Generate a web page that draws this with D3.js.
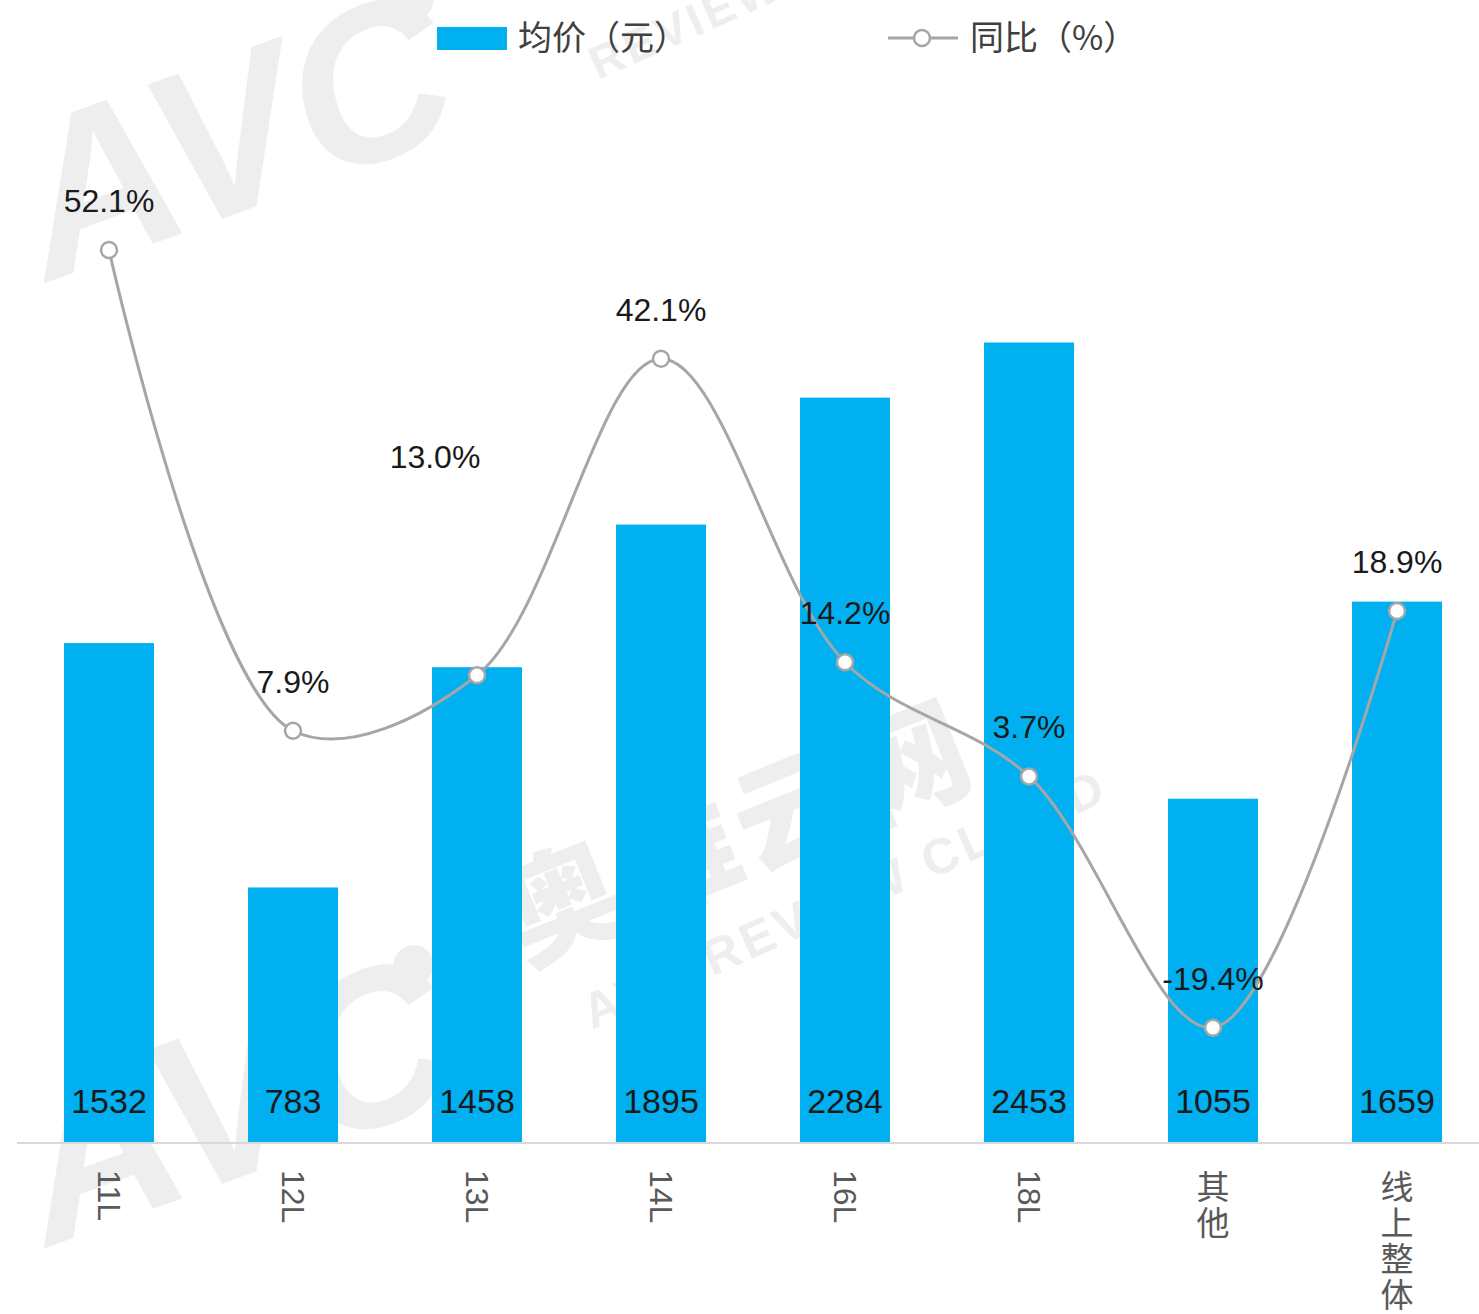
<!DOCTYPE html>
<html>
<head>
<meta charset="utf-8">
<script src="https://cdn.jsdelivr.net/npm/d3@7"></script>
<style>
  html, body { margin: 0; padding: 0; background: #fff; }
  svg { display: block; }
</style>
</head>
<body>
<svg id="chart" width="1479" height="1314"></svg>
<script>
// Average price (yuan) and year-on-year change (%) by capacity segment
const categories = ["11L", "12L", "13L", "14L", "16L", "18L", "其他", "线上整体"];
const avgPrice   = [1532, 783, 1458, 1895, 2284, 2453, 1055, 1659];
const yoyPct     = [52.1, 7.9, 13.0, 42.1, 14.2, 3.7, -19.4, 18.9];
const legendNames = ["均价（元）", "同比（%）"];

const W = 1479, H = 1314;
const svg = d3.select("#chart");

const plotTop = 164, plotBottom = 1143;
const x = d3.scaleBand().domain(categories).range([17, 1489])
  .paddingInner(0.511).paddingOuter(0.2555);
const yBar = d3.scaleLinear().domain([0, 3000]).range([plotBottom, plotTop]);
const yLine = d3.scaleLinear().domain([-30, 60]).range([plotBottom, plotTop]);

const BLUE = "#00b0f0", GREY_LINE = "#a6a6a6";
const numFont = "'Liberation Sans', Arial, sans-serif";
const cjkFont = "'Noto Sans CJK SC', 'Noto Sans', sans-serif";

// faint brand watermark behind the chart
const wm = svg.append("g").attr("fill", "#eeeeee").attr("font-family", numFont)
  .attr("font-weight", "bold");
[0, 965].forEach(dy => {
  const g = wm.append("g").attr("transform", `translate(48,${282 + dy}) rotate(-20)`);
  g.append("text").attr("font-size", 220).attr("font-style", "italic").text("AVC");
  g.append("circle").attr("cx", 440).attr("cy", -140).attr("r", 20);
});
wm.append("text").attr("transform", "translate(525,965) rotate(-22)")
  .attr("font-family", cjkFont).attr("font-weight", 900)
  .attr("font-size", 118).attr("letter-spacing", 6).text("奥维云网");
wm.append("text").attr("transform", "translate(592,1030) rotate(-24)")
  .attr("font-size", 50).attr("letter-spacing", 4).text("AVC REVIEW CLOUD");
wm.append("text").attr("transform", "translate(598,80) rotate(-24)")
  .attr("font-size", 46).attr("letter-spacing", 4).text("REVIEW");

// bars
svg.append("g").selectAll("rect").data(categories).join("rect")
  .attr("x", d => x(d))
  .attr("width", x.bandwidth())
  .attr("y", (d, i) => yBar(avgPrice[i]))
  .attr("height", (d, i) => yBar(0) - yBar(avgPrice[i]))
  .attr("fill", BLUE);

// bar value labels, inside the bar foot
svg.append("g").selectAll("text").data(categories).join("text")
  .attr("x", d => x(d) + x.bandwidth() / 2)
  .attr("y", plotBottom - 30)
  .attr("text-anchor", "middle")
  .attr("font-family", numFont).attr("font-size", 34)
  .attr("fill", "#1a1a1a")
  .text((d, i) => avgPrice[i]);

// category axis
const xAxis = d3.axisBottom(x).tickSize(0).tickFormat("");
const axisG = svg.append("g").attr("transform", `translate(0,${plotBottom})`).call(xAxis);
axisG.select(".domain").attr("stroke", "#d9d9d9").attr("stroke-width", 2)
  .attr("d", `M17,0H${W}`);

// vertical category labels (latin turned sideways, CJK upright)
const isLatin = s => /^[\x00-\x7f]+$/.test(s);
svg.append("g").attr("fill", "#595959").selectAll("text").data(categories).join("text")
  .attr("x", d => x(d) + x.bandwidth() / 2)
  .attr("y", 1170)
  .style("writing-mode", "vertical-rl")
  .attr("font-family", d => isLatin(d) ? numFont : cjkFont)
  .attr("font-size", d => isLatin(d) ? 32 : 33)
  .attr("letter-spacing", d => isLatin(d) ? 0 : 3)
  .text(d => d);

// YoY line
const pts = categories.map((c, i) => [x(c) + x.bandwidth() / 2, yLine(yoyPct[i])]);
svg.append("path")
  .attr("d", d3.line().curve(d3.curveCatmullRom.alpha(0.5))(pts))
  .attr("fill", "none").attr("stroke", GREY_LINE).attr("stroke-width", 3);
svg.append("g").selectAll("circle").data(pts).join("circle")
  .attr("cx", d => d[0]).attr("cy", d => d[1]).attr("r", 8)
  .attr("fill", "#fff").attr("stroke", GREY_LINE).attr("stroke-width", 2.5);

// YoY labels above the markers (the 13L one sits up and to the left)
const labelShift = { "13L": [-42, -219] };
svg.append("g").selectAll("text").data(categories).join("text")
  .attr("x", (d, i) => pts[i][0] + (labelShift[d] ? labelShift[d][0] : 0))
  .attr("y", (d, i) => pts[i][1] + (labelShift[d] ? labelShift[d][1] : -50) + 12)
  .attr("text-anchor", "middle")
  .attr("font-family", numFont).attr("font-size", 32)
  .attr("fill", "#1a1a1a")
  .text((d, i) => yoyPct[i].toFixed(1) + "%");

// legend
const lg = svg.append("g");
lg.append("rect").attr("x", 437).attr("y", 27).attr("width", 70).attr("height", 23).attr("fill", BLUE);
lg.append("text").attr("x", 518).attr("y", 50)
  .attr("font-family", cjkFont).attr("font-size", 34).attr("fill", "#404040")
  .text(legendNames[0]);
lg.append("line").attr("x1", 888).attr("x2", 958).attr("y1", 38).attr("y2", 38)
  .attr("stroke", GREY_LINE).attr("stroke-width", 3);
lg.append("circle").attr("cx", 922).attr("cy", 38).attr("r", 8)
  .attr("fill", "#fff").attr("stroke", GREY_LINE).attr("stroke-width", 2.5);
lg.append("text").attr("x", 970).attr("y", 50)
  .attr("font-family", cjkFont).attr("font-size", 34).attr("fill", "#404040")
  .text(legendNames[1]);
</script>
</body>
</html>
